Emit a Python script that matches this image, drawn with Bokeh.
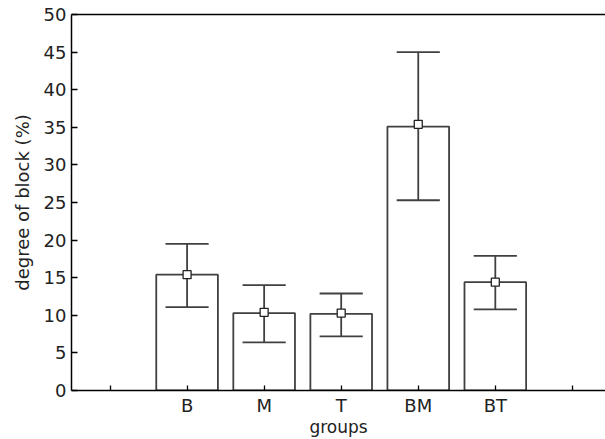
from bokeh.plotting import figure
from bokeh.models import FixedTicker, LinearAxis, Range1d, ColumnDataSource
from bokeh.embed import file_html
from bokeh.resources import INLINE

# ---- data ----
categories = ["B", "M", "T", "BM", "BT"]
means = [15.4, 10.3, 10.2, 35.1, 14.4]
marker_vals = [15.4, 10.4, 10.3, 35.4, 14.4]
upper = [19.5, 14.0, 12.9, 45.0, 17.9]
lower = [11.1, 6.4, 7.2, 25.3, 10.8]
y_ticks = [0, 5, 10, 15, 20, 25, 30, 35, 40, 45, 50]

positions = [i + 1 for i in range(len(categories))]
tick_positions = list(range(0, len(categories) + 2))
overrides = {0: ""}
for pos, c in zip(positions, categories):
    overrides[pos] = c
overrides[len(categories) + 1] = ""

cap = 0.28
src = ColumnDataSource(dict(
    x=positions, top=means, mk=marker_vals, up=upper, lo=lower,
    x0=[x - cap for x in positions], x1=[x + cap for x in positions],
))

FONT = "DejaVu Sans"
p = figure(width=605, height=439, output_backend="svg", toolbar_location=None,
           x_range=Range1d(-0.5, 6.43), y_range=Range1d(0, 50),
           min_border_left=71, min_border_right=0, min_border_top=14,
           min_border_bottom=10)
p.outline_line_color = None
p.xgrid.visible = False
p.ygrid.visible = False
p.background_fill_color = "white"
p.border_fill_color = "white"

bar_color = "#404040"
p.vbar(x="x", top="top", bottom=0, width=0.8, source=src,
       fill_color="white", line_color=bar_color, line_width=1.8)
p.segment(x0="x", x1="x", y0="lo", y1="up", source=src,
          line_color=bar_color, line_width=1.8)
p.segment(x0="x0", x1="x1", y0="up", y1="up", source=src,
          line_color=bar_color, line_width=1.8)
p.segment(x0="x0", x1="x1", y0="lo", y1="lo", source=src,
          line_color=bar_color, line_width=1.8)
p.scatter(x="x", y="mk", source=src, marker="square", size=8,
          fill_color="white", line_color="#222222", line_width=1.3)

# axes
xa = p.xaxis[0]
xa.ticker = FixedTicker(ticks=tick_positions)
xa.major_label_overrides = overrides
xa.major_tick_in = 5
xa.major_tick_out = 0
xa.minor_tick_line_color = None
xa.axis_line_color = "black"
xa.axis_line_width = 1.5
xa.major_tick_line_color = "black"
xa.major_tick_line_width = 1.3
xa.major_label_text_font = FONT
xa.major_label_text_font_size = "18px"
xa.major_label_text_color = "#222222"
xa.major_label_standoff = 4
xa.axis_label = "groups"
xa.axis_label_text_font = FONT
xa.axis_label_text_font_size = "17px"
xa.axis_label_text_font_style = "normal"
xa.axis_label_text_color = "#222222"
xa.axis_label_standoff = -2

ya = p.yaxis[0]
ya.ticker = FixedTicker(ticks=y_ticks)
ya.major_tick_in = 6
ya.major_tick_out = 0
ya.minor_tick_line_color = None
ya.axis_line_color = "black"
ya.axis_line_width = 1.5
ya.major_tick_line_color = "black"
ya.major_tick_line_width = 1.3
ya.major_label_text_font = FONT
ya.major_label_text_font_size = "18px"
ya.major_label_text_color = "#222222"
ya.major_label_standoff = 5
ya.axis_label = "degree of block (%)"
ya.axis_label_text_font = FONT
ya.axis_label_text_font_size = "18px"
ya.axis_label_text_font_style = "normal"
ya.axis_label_text_color = "#222222"
ya.axis_label_standoff = 8

top_axis = LinearAxis(ticker=FixedTicker(ticks=[]), axis_line_color="black",
                      axis_line_width=1.5, major_tick_line_color=None,
                      minor_tick_line_color=None,
                      major_label_text_font_size="0px")
p.add_layout(top_axis, "above")

open("out.html", "w").write(file_html(p, INLINE))
